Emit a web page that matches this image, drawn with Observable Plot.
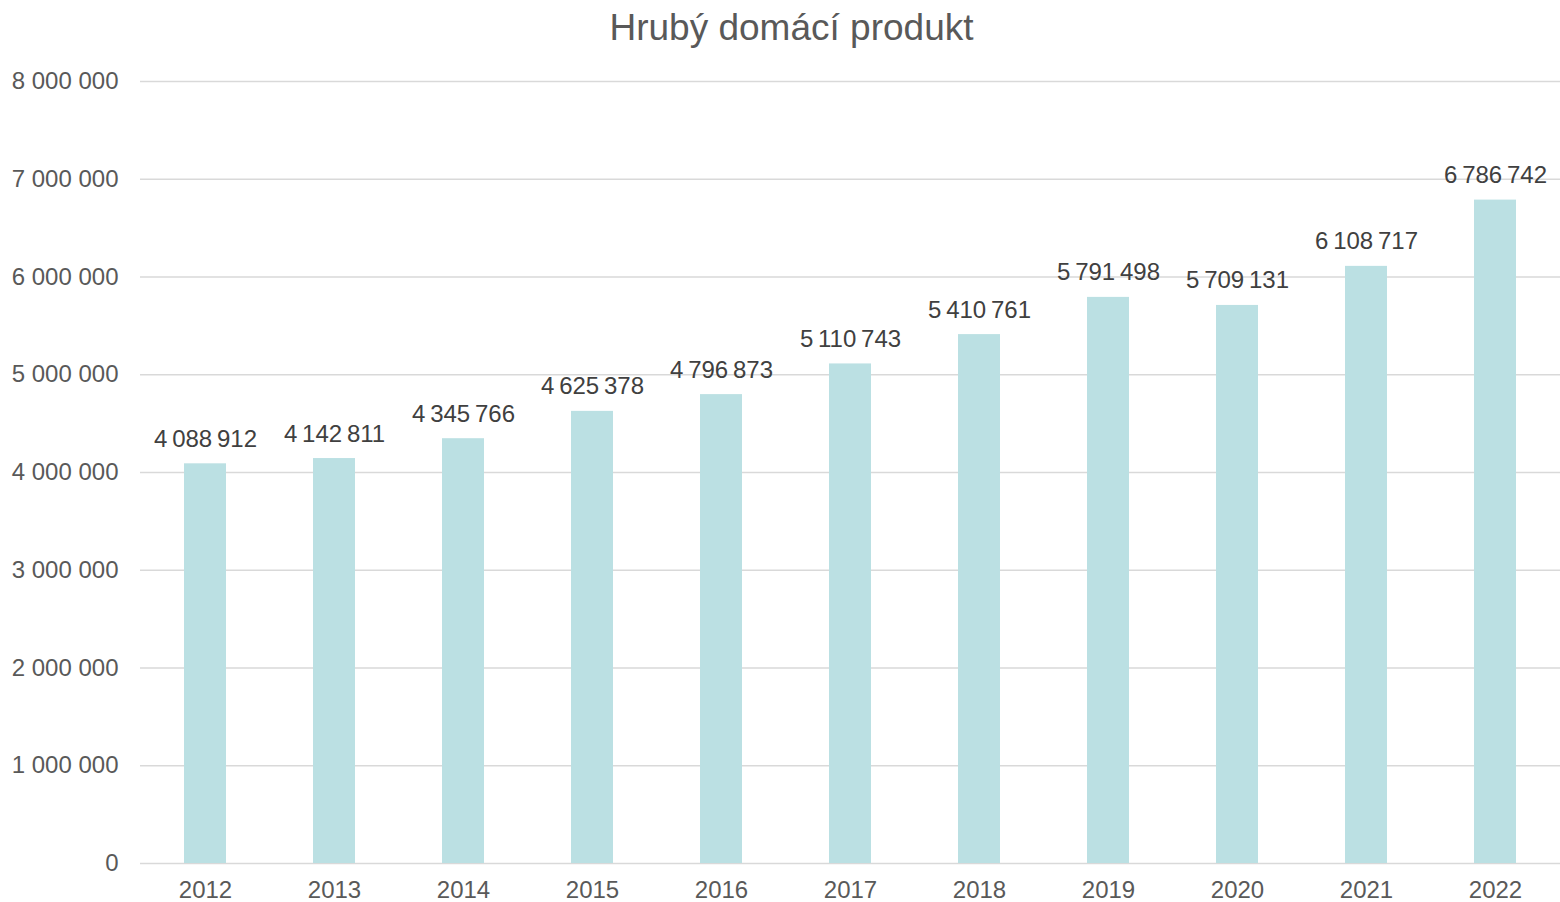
<!DOCTYPE html>
<html>
<head>
<meta charset="utf-8">
<script src="https://cdn.jsdelivr.net/npm/d3@7"></script>
<script src="https://cdn.jsdelivr.net/npm/@observablehq/plot@0.6"></script>
<style>
  html, body { margin: 0; padding: 0; background: #fff; }
  #title { width: 1560px; height: 60px; box-sizing: border-box; padding-top: 9px; padding-left: 23px;
    text-align: center; font-family: "Liberation Sans", Arial, sans-serif; font-size: 37px; line-height: 1; color: #595959; }
  #chart svg { display: block; }
</style>
</head>
<body>
<div id="title">Hrubý domácí produkt</div>
<div id="chart"></div>
<script>
const years = ["2012","2013","2014","2015","2016","2017","2018","2019","2020","2021","2022"];
const gdp = [4088912, 4142811, 4345766, 4625378, 4796873, 5110743, 5410761, 5791498, 5709131, 6108717, 6786742];
const yTicks = [0, 1000000, 2000000, 3000000, 4000000, 5000000, 6000000, 7000000, 8000000];

const data = years.map((y, i) => ({year: y, value: gdp[i]}));
const fmtTick = d => d3.format(",")(d).replace(/,/g, " ");
const fmtLabel = d => d3.format(",")(d).replace(/,/g, "\u2009");

const chart = Plot.plot({
  width: 1560,
  height: 842,
  marginLeft: 140,
  marginRight: 0,
  marginTop: 21,
  marginBottom: 39,
  style: {fontFamily: "'Liberation Sans', Arial, sans-serif", fontSize: "24px", color: "#595959", background: "#fff"},
  x: {domain: years, paddingInner: 0.677, paddingOuter: 0.3385, label: null, tickSize: 0, tickPadding: 17},
  y: {domain: [0, 8000000], ticks: yTicks, tickFormat: fmtTick, label: null, tickSize: 0, tickPadding: 22},
  marks: [
    Plot.ruleY(yTicks, {stroke: "#d9d9d9", strokeWidth: 1.5}),
    Plot.barY(data, {x: "year", y: "value", fill: "#bbe0e3"}),
    Plot.text(data, {x: "year", y: "value", text: d => fmtLabel(d.value), lineAnchor: "bottom", dy: -17, fill: "#404040", fontSize: 24})
  ]
});
document.getElementById("chart").appendChild(chart);
</script>
</body>
</html>
